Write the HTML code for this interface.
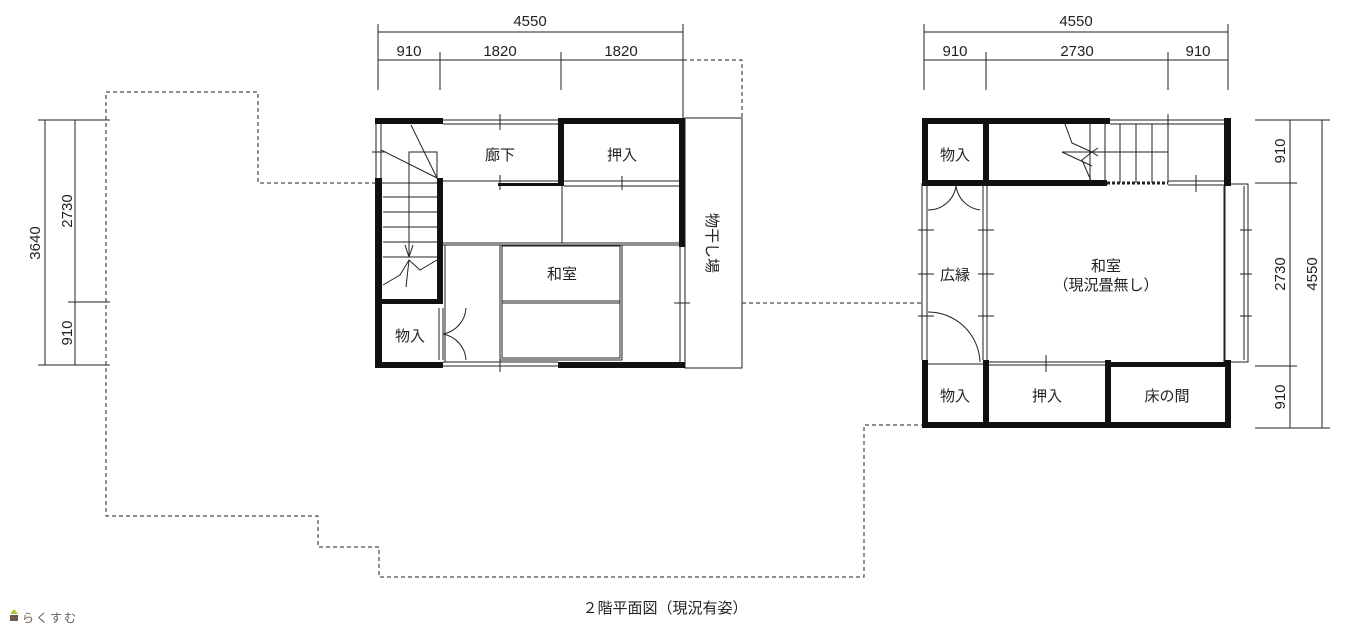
<!DOCTYPE html>
<html><head><meta charset="utf-8"><style>
html,body{margin:0;padding:0;background:#fff;}
svg{display:block;font-family:"Liberation Sans","Noto Sans CJK JP",sans-serif;}
text{fill:#222;}
</style></head><body>
<svg width="1350" height="627" viewBox="0 0 1350 627" xmlns="http://www.w3.org/2000/svg">
<g stroke="#222" fill="none" stroke-width="1">
<!-- dashed outline -->
<g stroke-dasharray="4,3">
<polyline points="376,183 258,183 258,92 106,92 106,516 318,516 318,547 379,547 379,577 864,577 864,425 922,425"/>
<line x1="742" y1="303" x2="922" y2="303"/>
<polyline points="683,60 742,60 742,118"/>
</g>
<!-- dimensions left top -->
<line x1="378" y1="32" x2="683" y2="32"/><line x1="378" y1="24" x2="378" y2="90"/><line x1="683" y1="24" x2="683" y2="118"/>
<line x1="378" y1="60" x2="683" y2="60"/><line x1="440" y1="52" x2="440" y2="90"/><line x1="561" y1="52" x2="561" y2="90"/>
<!-- right top -->
<line x1="924" y1="32" x2="1228" y2="32"/><line x1="924" y1="24" x2="924" y2="90"/><line x1="1228" y1="24" x2="1228" y2="90"/>
<line x1="924" y1="60" x2="1228" y2="60"/><line x1="986" y1="52" x2="986" y2="90"/><line x1="1168" y1="52" x2="1168" y2="90"/>
<!-- left vertical -->
<line x1="45" y1="120" x2="45" y2="365"/><line x1="75" y1="120" x2="75" y2="365"/>
<line x1="38" y1="120" x2="110" y2="120"/><line x1="38" y1="365" x2="110" y2="365"/><line x1="68" y1="302" x2="110" y2="302"/>
<!-- right vertical -->
<line x1="1290" y1="120" x2="1290" y2="428"/><line x1="1322" y1="120" x2="1322" y2="428"/>
<line x1="1255" y1="120" x2="1330" y2="120"/><line x1="1255" y1="428" x2="1330" y2="428"/>
<line x1="1255" y1="183" x2="1297" y2="183"/><line x1="1255" y1="366" x2="1297" y2="366"/>

<!-- LEFT PLAN -->
<rect x="685" y="118" width="57" height="250"/>
<line x1="443" y1="120" x2="558" y2="120"/><line x1="443" y1="124" x2="558" y2="124"/>
<line x1="443" y1="362" x2="558" y2="362"/><line x1="443" y1="366" x2="558" y2="366"/>
<line x1="376" y1="124" x2="376" y2="178"/><line x1="381" y1="124" x2="381" y2="178"/>
<line x1="680" y1="247" x2="680" y2="365"/><line x1="685" y1="247" x2="685" y2="365"/>
<line x1="443" y1="181" x2="558" y2="181"/>
<line x1="564" y1="181" x2="682" y2="181"/><line x1="564" y1="186" x2="682" y2="186"/>
<line x1="443" y1="243" x2="682" y2="243"/><line x1="443" y1="245" x2="682" y2="245"/>
<line x1="562" y1="186" x2="562" y2="243"/>
<rect x="502" y="246" width="118" height="112"/><rect x="500" y="245" width="122" height="115"/>
<line x1="502" y1="301" x2="620" y2="301"/><line x1="502" y1="303" x2="620" y2="303"/>
<line x1="445" y1="245" x2="445" y2="362"/>
<!-- stairs -->
<line x1="382" y1="183" x2="437" y2="183"/>
<g>
<line x1="383" y1="197" x2="437" y2="197"/><line x1="383" y1="212" x2="437" y2="212"/><line x1="383" y1="227" x2="437" y2="227"/><line x1="383" y1="242" x2="437" y2="242"/><line x1="383" y1="257" x2="437" y2="257"/>
</g>
<polyline points="409,255 409,152 437,152 437,178"/>
<line x1="411" y1="125" x2="437" y2="178"/><line x1="381" y1="150" x2="437" y2="178"/>
<polyline points="383,285 400,275 409,260 420,270 437,260"/><line x1="409" y1="260" x2="406" y2="287"/>
<line x1="405" y1="245" x2="409" y2="257"/><line x1="413" y1="245" x2="409" y2="257"/>
<!-- door arcs left 物入 -->
<line x1="439" y1="308" x2="439" y2="360"/><line x1="443" y1="308" x2="443" y2="360"/>
<path d="M466,308 A28,28 0 0 1 443,334"/><path d="M443,334 A28,28 0 0 1 466,360"/>
<!-- ticks -->
<line x1="500" y1="114" x2="500" y2="130"/><line x1="500" y1="175" x2="500" y2="190"/><line x1="622" y1="176" x2="622" y2="190"/>
<line x1="372" y1="152" x2="386" y2="152"/><line x1="674" y1="303" x2="690" y2="303"/><line x1="500" y1="358" x2="500" y2="372"/>
</g>
<g fill="#111">
<rect x="375" y="118" width="68" height="6"/><rect x="558" y="118" width="127" height="6"/>
<rect x="375" y="178" width="7" height="190"/><rect x="437" y="178" width="6" height="125"/>
<rect x="375" y="299" width="68" height="5"/>
<rect x="679" y="118" width="6" height="129"/>
<rect x="558" y="118" width="6" height="68"/><rect x="498" y="183" width="66" height="3"/>
<rect x="375" y="362" width="68" height="6"/><rect x="558" y="362" width="127" height="6"/>
</g>
<g font-size="15" text-anchor="middle">
<text x="500" y="160">廊下</text><text x="622" y="160">押入</text><text x="562" y="279">和室</text>
<text x="410" y="341">物入</text>
<text transform="translate(712,243) rotate(90)" x="0" y="5">物干し場</text>
</g>

<!-- RIGHT PLAN -->
<g stroke="#222" fill="none" stroke-width="1">
<line x1="1110" y1="120" x2="1224" y2="120"/><line x1="1110" y1="124" x2="1224" y2="124"/>
<line x1="922" y1="183" x2="922" y2="360"/><line x1="927" y1="183" x2="927" y2="360"/>
<line x1="983" y1="186" x2="983" y2="360"/><line x1="987" y1="186" x2="987" y2="360"/>
<line x1="928" y1="181" x2="983" y2="181"/><line x1="928" y1="364" x2="983" y2="364"/>
<line x1="1168" y1="181" x2="1224" y2="181"/><line x1="1168" y1="185" x2="1224" y2="185"/>
<line x1="988" y1="362" x2="1107" y2="362"/><line x1="988" y1="365" x2="1107" y2="365"/>
<line x1="1224" y1="186" x2="1224" y2="362"/>
<rect x="1225" y="184" width="23" height="178"/><line x1="1244" y1="186" x2="1244" y2="360"/>
<line x1="1107" y1="183" x2="1168" y2="183" stroke-dasharray="3,2" stroke-width="3"/>
<!-- stairs -->
<line x1="1090" y1="124" x2="1090" y2="183"/><line x1="1105" y1="124" x2="1105" y2="183"/><line x1="1120" y1="124" x2="1120" y2="183"/><line x1="1136" y1="124" x2="1136" y2="183"/><line x1="1152" y1="124" x2="1152" y2="183"/><line x1="1168" y1="124" x2="1168" y2="183"/>
<line x1="1092" y1="152" x2="1168" y2="152"/>
<polyline points="1065,124 1072,143 1092,152 1082,160 1092,183"/>
<line x1="1062" y1="152" x2="1092" y2="152"/><line x1="1062" y1="152" x2="1092" y2="166"/>
<line x1="1092" y1="152" x2="1098" y2="148"/><line x1="1092" y1="152" x2="1098" y2="156"/>
<!-- doors 広縁 -->
<path d="M928,210 A28,28 0 0 0 956,186"/><path d="M956,186 A28,28 0 0 0 980,210"/>
<path d="M928,312 A52,52 0 0 1 980,362"/>
<!-- ticks -->
<line x1="918" y1="230" x2="934" y2="230"/><line x1="918" y1="274" x2="934" y2="274"/><line x1="918" y1="316" x2="934" y2="316"/>
<line x1="978" y1="230" x2="994" y2="230"/><line x1="978" y1="274" x2="994" y2="274"/><line x1="978" y1="316" x2="994" y2="316"/>
<line x1="1240" y1="230" x2="1252" y2="230"/><line x1="1240" y1="274" x2="1252" y2="274"/><line x1="1240" y1="316" x2="1252" y2="316"/>
<line x1="1046" y1="355" x2="1046" y2="372"/><line x1="1196" y1="175" x2="1196" y2="192"/><line x1="1168" y1="114" x2="1168" y2="128"/>
</g>
<g fill="#111">
<rect x="922" y="118" width="188" height="6"/><rect x="1224" y="118" width="7" height="68"/>
<rect x="922" y="118" width="6" height="65"/><rect x="983" y="118" width="6" height="68"/>
<rect x="922" y="180" width="185" height="6"/>
<rect x="922" y="360" width="6" height="68"/><rect x="983" y="360" width="6" height="68"/>
<rect x="1105" y="360" width="6" height="68"/><rect x="1107" y="362" width="123" height="5"/>
<rect x="1225" y="360" width="6" height="68"/>
<rect x="922" y="422" width="309" height="6"/>
</g>
<g font-size="15" text-anchor="middle">
<text x="955" y="160">物入</text><text x="955" y="280">広縁</text>
<text x="1106" y="271">和室</text><text x="1106" y="290">（現況畳無し）</text>
<text x="955" y="401">物入</text><text x="1047" y="401">押入</text><text x="1167" y="401">床の間</text>
</g>

<!-- dimension labels -->
<g font-size="15" text-anchor="middle">
<text x="530" y="26">4550</text><text x="409" y="56">910</text><text x="500" y="56">1820</text><text x="621" y="56">1820</text>
<text x="1076" y="26">4550</text><text x="955" y="56">910</text><text x="1077" y="56">2730</text><text x="1198" y="56">910</text>
<text transform="translate(40,243) rotate(-90)" x="0" y="0">3640</text>
<text transform="translate(72,211) rotate(-90)" x="0" y="0">2730</text>
<text transform="translate(72,333) rotate(-90)" x="0" y="0">910</text>
<text transform="translate(1285,151) rotate(-90)" x="0" y="0">910</text>
<text transform="translate(1285,274) rotate(-90)" x="0" y="0">2730</text>
<text transform="translate(1285,397) rotate(-90)" x="0" y="0">910</text>
<text transform="translate(1317,274) rotate(-90)" x="0" y="0">4550</text>
<text x="665" y="613">２階平面図（現況有姿）</text>
</g>
<!-- logo -->
<polygon points="10,614 14,609 18,614" fill="#a6c93a"/>
<rect x="10" y="615" width="8" height="6" fill="#6b5a4e"/>
<text x="22" y="622" font-size="12" fill="#6b5a4e" style="fill:#6b5a4e" letter-spacing="2">らくすむ</text>
</svg>
</body></html>
